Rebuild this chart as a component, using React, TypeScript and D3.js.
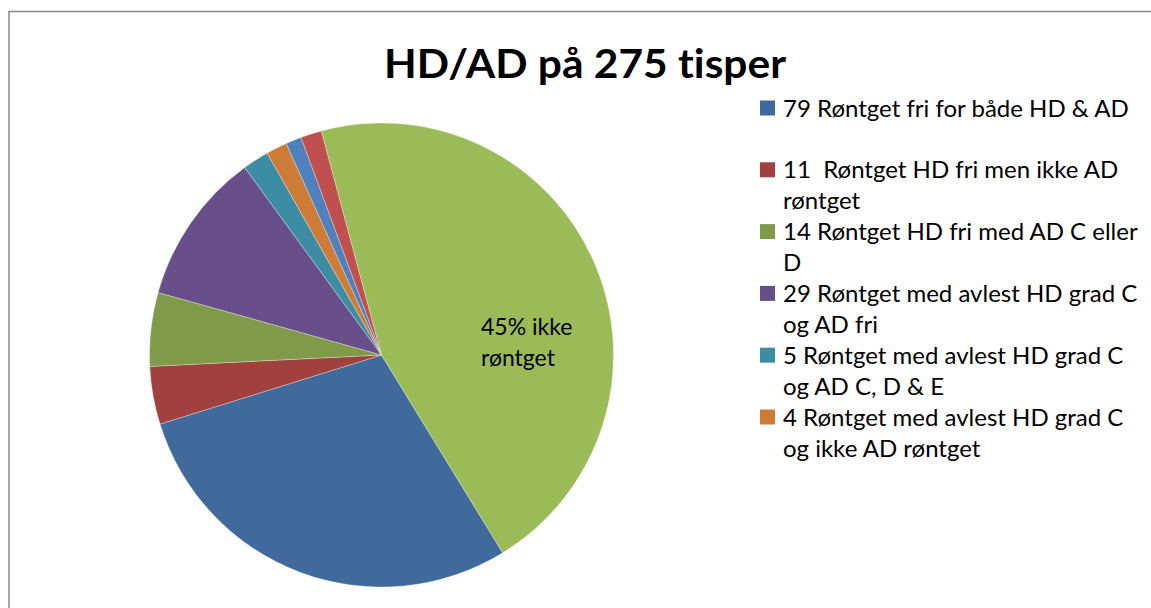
import React, { useRef, useEffect } from 'react';
import * as d3 from 'd3';

// slices, in the order they are drawn (clockwise)
const groups = [
  'Røntget fri for både HD & AD',
  'Røntget HD fri men ikke AD røntget',
  'Røntget HD fri med AD C eller D',
  'Røntget med avlest HD grad C og AD fri',
  'Røntget med avlest HD grad C og AD C, D & E',
  'Røntget med avlest HD grad C og ikke AD røntget',
  'Røntget HD grad D/E',
  'Røntget med andre funn',
  'Ikke røntget',
];
const counts = [79, 11, 14, 29, 5, 4, 3, 4, 124];
const sliceColors = ['#416a9c', '#a0413e', '#7f9b49', '#684f8a', '#3c8da3', '#cf7b38', '#4f81bd', '#c0504d', '#9bbb59'];

// legend only shows the first six entries (the rest are cut off)
const legendLines = [
  ['79 Røntget fri for både HD & AD'],
  ['11  Røntget HD fri men ikke AD', 'røntget'],
  ['14 Røntget HD fri med AD C eller', 'D'],
  ['29 Røntget med avlest HD grad C', 'og AD fri'],
  ['5 Røntget med avlest HD grad C', 'og AD C, D & E'],
  ['4 Røntget med avlest HD grad C', 'og ikke AD røntget'],
];

const title = 'HD/AD på 275 tisper';
const sliceLabel = ['45% ikke', 'røntget'];

const FONT = 'Lato, "Open Sans", sans-serif';

const App = () => {
  const ref = useRef<SVGSVGElement>(null);

  useEffect(() => {
    if (!ref.current) return;
    const svg = d3.select(ref.current);
    svg.selectAll('*').remove();

    // chart area frame
    svg.append('rect')
      .attr('x', 9)
      .attr('y', 11.5)
      .attr('width', 1200)
      .attr('height', 700)
      .attr('fill', '#fff')
      .attr('stroke', '#888')
      .attr('stroke-width', 1.5);

    svg.append('text')
      .attr('x', 585)
      .attr('y', 78)
      .attr('text-anchor', 'middle')
      .attr('font-family', FONT)
      .attr('font-weight', 'bold')
      .attr('font-size', 40)
      .attr('textLength', 402)
      .attr('lengthAdjust', 'spacingAndGlyphs')
      .style('font-variant-ligatures', 'none')
      .attr('fill', '#000')
      .text(title);

    const cx = 381.5;
    const cy = 355;
    const r = 232;
    const start = (148.5 * Math.PI) / 180;

    const pie = d3.pie<number>()
      .sort(null)
      .startAngle(start)
      .endAngle(start + 2 * Math.PI);

    const arc = d3.arc<d3.PieArcDatum<number>>()
      .innerRadius(0)
      .outerRadius(r);

    const g = svg.append('g').attr('transform', `translate(${cx},${cy})`);
    g.selectAll('path')
      .data(pie(counts))
      .enter()
      .append('path')
      .attr('d', arc)
      .attr('fill', (d, i) => sliceColors[i])
      .attr('stroke', '#fff')
      .attr('stroke-opacity', 0.5)
      .attr('stroke-width', 0.6)
      .append('title')
      .text((d, i) => `${groups[i]}: ${counts[i]}`);

    // label inside the big green slice
    svg.append('text')
      .attr('x', 481)
      .attr('y', 335)
      .attr('font-family', FONT)
      .attr('font-size', 23)
      .attr('fill', '#000')
      .style('font-variant-ligatures', 'none')
      .selectAll('tspan')
      .data(sliceLabel)
      .enter()
      .append('tspan')
      .attr('x', 481)
      .attr('dy', (d, i) => (i === 0 ? 0 : 31))
      .text(d => d);

    // legend
    const legend = svg.append('g').attr('transform', 'translate(760,108)');
    const items = legend.selectAll('g')
      .data(legendLines)
      .enter()
      .append('g')
      .attr('transform', (d, i) => `translate(0,${i * 61.8})`);

    items.append('rect')
      .attr('x', 0)
      .attr('y', -7.5)
      .attr('width', 15)
      .attr('height', 15)
      .attr('fill', (d, i) => sliceColors[i]);

    items.append('text')
      .attr('font-family', FONT)
      .attr('font-size', 24)
      .attr('fill', '#000')
      .style('white-space', 'pre')
      .style('font-variant-ligatures', 'none')
      .selectAll('tspan')
      .data(d => d)
      .enter()
      .append('tspan')
      .attr('x', 23)
      .attr('y', (d, i) => 8.5 + i * 31)
      .text(d => d);
  }, []);

  return (
    <svg
      ref={ref}
      width={1151}
      height={608}
      style={{ position: 'absolute', left: 0, top: 0 }}
    />
  );
};

export default App;
